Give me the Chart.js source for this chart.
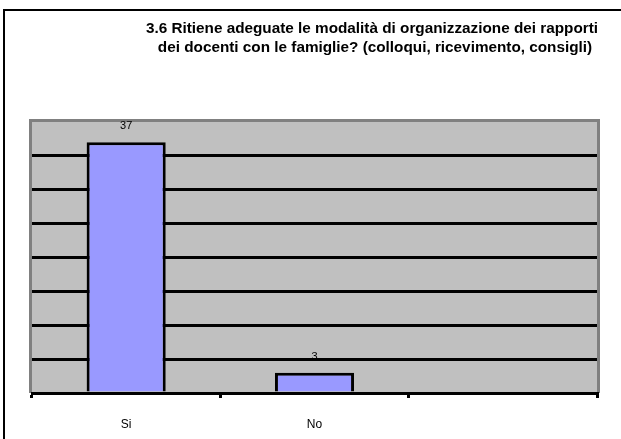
<!DOCTYPE html>
<html><head><meta charset="utf-8">
<style>html,body{margin:0;padding:0;background:#fff;}#wrap{position:relative;width:621px;height:439px;}</style>
<script src="https://cdn.jsdelivr.net/npm/chart.js@4/dist/chart.umd.min.js"></script>
</head><body><div id="wrap"><canvas id="c" width="621" height="439"></canvas></div>
<script>
const categories = ['Si', 'No', ''];
const values = [37, 3, null];
const titleLines = ['3.6 Ritiene adeguate le modalità di organizzazione dei rapporti', 'dei docenti con le famiglie? (colloqui, ricevimento, consigli)'];
const yMax = 40;
const yStep = 5;

const deco = {
  id: 'deco',
  beforeDraw(chart) {
    const ctx = chart.ctx, a = chart.chartArea;
    ctx.save();
    ctx.fillStyle = '#fff';
    ctx.fillRect(0, 0, chart.width, chart.height);
    // frame
    ctx.strokeStyle = '#000'; ctx.lineWidth = 2;
    ctx.beginPath(); ctx.moveTo(4, 439); ctx.lineTo(4, 10); ctx.lineTo(621, 10); ctx.stroke();
    // plot background
    ctx.fillStyle = '#C0C0C0';
    ctx.fillRect(a.left, a.top, a.right - a.left, a.bottom - a.top);
    ctx.strokeStyle = '#808080'; ctx.lineWidth = 3;
    ctx.beginPath(); ctx.moveTo(a.left - 1.5, a.bottom); ctx.lineTo(a.left - 1.5, a.top - 1.5); ctx.lineTo(a.right + 1.5, a.top - 1.5); ctx.lineTo(a.right + 1.5, a.bottom); ctx.stroke();
    // title
    ctx.fillStyle = '#000';
    ctx.font = 'bold 15.3px "Liberation Sans", Arial, sans-serif';
    ctx.textAlign = 'center'; ctx.textBaseline = 'middle';
    ctx.fillText(titleLines[0], 372, 29);
    ctx.fillText(titleLines[1], 375, 48);
    ctx.restore();
  },
  afterDatasetsDraw(chart) {
    const ctx = chart.ctx;
    const meta = chart.getDatasetMeta(0);
    ctx.save();
    ctx.fillStyle = '#000';
    ctx.font = '11px "Liberation Sans", Arial, sans-serif';
    ctx.textAlign = 'center'; ctx.textBaseline = 'middle';
    meta.data.forEach((el, i) => {
      if (values[i] == null) return;
      ctx.fillText(String(values[i]), el.x, el.y - 16);
    });
    ctx.restore();
  }
};

new Chart(document.getElementById('c'), {
  type: 'bar',
  data: {
    labels: categories,
    datasets: [{
      data: values,
      backgroundColor: '#9999FF',
      borderColor: '#000',
      borderWidth: 3,
      borderSkipped: 'bottom',
      categoryPercentage: 1,
      barPercentage: 0.42
    }]
  },
  options: {
    responsive: false,
    animation: false,
    layout: { padding: { left: 32, right: 24, top: 122, bottom: 0 } },
    plugins: { legend: { display: false }, title: { display: false }, tooltip: { enabled: false } },
    scales: {
      x: {
        offset: true,
        grid: { offset: true, drawOnChartArea: false, drawTicks: true, tickLength: 5, color: '#000', lineWidth: 3 },
        border: { display: true, color: '#000', width: 3 },
        ticks: { color: '#000', font: { size: 12, family: '"Liberation Sans", Arial, sans-serif' }, padding: 19 },
        afterFit(s) { s.height = 46; }
      },
      y: {
        min: 0, max: yMax,
        ticks: { display: false, stepSize: yStep },
        grid: { drawTicks: false, lineWidth: 3, color: (c) => (c.tick && (c.tick.value === yMax || c.tick.value === 0)) ? 'rgba(0,0,0,0)' : '#000' },
        border: { display: false },
        afterFit(s) { s.width = 0; }
      }
    }
  },
  plugins: [deco]
});
</script></body></html>
